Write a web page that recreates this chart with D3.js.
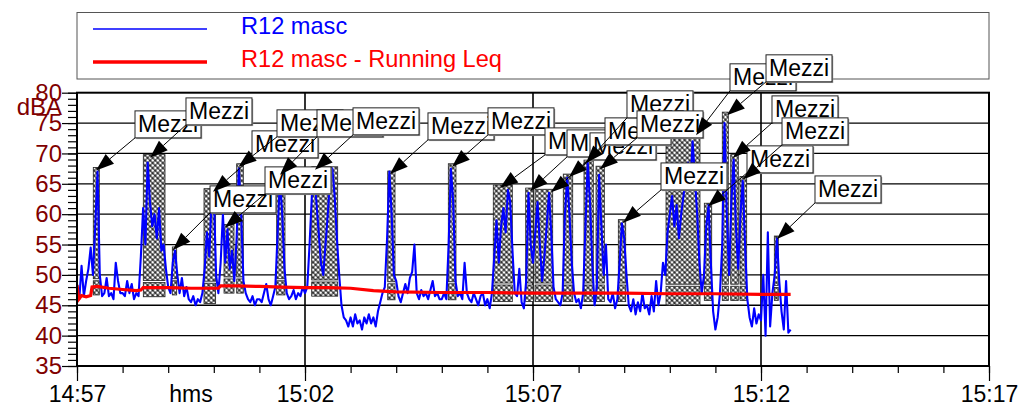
<!DOCTYPE html>
<html><head><meta charset="utf-8">
<script src="https://cdn.jsdelivr.net/npm/d3@7"></script>
<style>html,body{margin:0;padding:0;background:#fff;overflow:hidden}</style>
</head><body><svg id="c" width="1018" height="405"></svg>
<script>
// ---------- DATA ----------
const xTickLabels = ["14:57", "15:02", "15:07", "15:12", "15:17"];
const xTickMinutes = [0, 5, 10, 15, 20];
const xAxisTitle = "hms";
const yAxisTitle = "dBA";
const yTickValues = [35, 40, 45, 50, 55, 60, 65, 70, 75, 80];
const seriesNames = ["R12 masc", "R12 masc - Running Leq"];
const eventLabel = "Mezzi";

// R12 masc, one value every 3 s (0.05 min) from 14:57:00
const sampleStepMin = 0.05;
const lv00 = [48.5, 46, 51.5, 46.5, 49, 51, 54.5, 50, 58, 67, 50, 46.5, 47, 49.5, 46.5, 47, 46, 52, 49, 47];
const lv01 = [47, 46.5, 49, 47, 48.5, 46, 47, 46.5, 53, 61, 55, 68.5, 62, 58, 60, 56, 61, 54, 55, 51];
const lv02 = [48, 47, 52, 54, 50, 47, 49.5, 46.5, 48, 46, 45.5, 46.5, 45, 46, 45.5, 47, 51, 57, 53, 62];
const lv03 = [63.5, 50, 47, 52, 60, 52, 57.5, 51, 54, 49, 56, 67.5, 60, 49, 47, 46, 45.5, 46.5, 45, 46];
const lv04 = [46, 45.5, 47, 48.5, 46, 45, 46.5, 48, 57, 66, 60, 51, 47, 46, 46.5, 47.5, 46, 47, 46.5, 48];
const lv05 = [47, 48, 55, 63, 67, 62, 57, 52, 50, 55, 60, 66, 67.5, 63, 56, 50, 45, 43, 42.5, 41.5];
const lv06 = [43, 41.5, 43.5, 42, 42.5, 41, 43, 42, 43.5, 42, 43, 41.5, 44, 45.5, 47, 48, 56, 67, 60, 50];
const lv07 = [49, 46.5, 45.5, 47, 48.5, 47, 49.5, 50.5, 55, 47, 46, 47.5, 46.5, 47, 46, 47.5, 49, 46.5, 47, 46];
const lv08 = [46, 47, 46, 55, 67.5, 62, 49, 46.5, 47, 46, 52, 47, 46, 45.5, 47, 46, 45, 46.5, 47, 45];
const lv09 = [46, 44.5, 47, 53, 59, 52, 58, 61, 57, 64, 62, 54, 47, 46.5, 51, 45.5, 44.5, 49, 63.5, 55];
const lv10 = [52, 57, 62, 55, 49, 53, 58, 63.5, 57, 48, 46, 45.5, 45, 47, 60, 66, 60, 52, 47, 45.5];
const lv11 = [46, 44.5, 47, 58, 68.5, 62, 52, 45, 48, 66.5, 58, 50, 55, 46, 45.5, 47, 44.5, 46, 52, 58.5];
const lv12 = [56, 50, 45, 44, 46, 43.5, 45.5, 44, 47, 44.5, 45, 43.5, 46.5, 44, 49, 45, 47, 52, 50, 57];
const lv13 = [60, 63, 58, 61.5, 56, 60, 63, 66, 68.5, 64, 72, 66, 60, 52, 47, 50, 58, 61.5, 52, 44];
const lv14 = [41, 43, 47, 55, 75, 60, 50, 62, 69, 58, 51, 60, 65.5, 55, 46, 43, 41.5, 44.5, 42, 43.5];
const lv15 = [42.5, 50, 40, 57, 41.5, 47, 50, 56, 49, 44, 41, 49, 40.5, 41];

// Running Leq (minutes after 14:57, dBA)
const leqMin = [0, 0.04, 0.1, 0.2, 0.3, 0.33, 0.45, 0.7, 1.0, 1.3, 1.4, 1.45, 2.0, 2.5, 3.1, 3.15, 3.2, 3.5, 4.0, 4.5, 5.0, 5.5, 6.0, 6.5, 7.0, 8.0, 9.0, 10.0, 11.0, 12.0, 13.0, 14.0, 15.0, 15.65];
const leqVal = [48.3, 46.0, 46.6, 46.4, 46.6, 48.0, 48.1, 47.8, 47.6, 47.4, 47.5, 47.9, 47.9, 47.8, 47.8, 48.2, 48.2, 48.2, 48.1, 48.0, 47.9, 47.9, 47.8, 47.4, 47.2, 47.1, 47.1, 47.0, 47.0, 47.0, 46.9, 46.9, 46.8, 46.8];

// "Mezzi" events (minutes after 14:57, dBA)
const evStart = [0.357, 1.454, 2.09, 2.785, 3.224, 3.502, 4.379, 5.147, 6.814, 8.143, 9.129, 9.84, 10.044, 10.664, 11.118, 11.382, 11.871, 12.917, 13.757, 14.151, 14.336, 14.539, 15.292];
const evEnd = [0.489, 1.930, 2.186, 3.04, 3.443, 3.647, 4.561, 5.717, 6.974, 8.311, 9.546, 10.007, 10.432, 10.871, 11.322, 11.564, 12.033, 13.662, 13.919, 14.283, 14.502, 14.686, 15.379];
const evTop = [67.7, 69.8, 54.6, 64.2, 58.3, 68.3, 67.0, 67.8, 67.1, 68.3, 64.8, 64.3, 64.1, 66.6, 68.9, 67.9, 59.1, 73.5, 61.8, 76.8, 69.8, 66.2, 56.4];
const evLeq = [49.2, 48.9, 49.2, 48.8, 49.5, 49.5, 49.2, 49.0, 48.7, 48.7, 48.5, 48.5, 48.5, 48.5, 48.5, 48.5, 48.5, 48.3, 48.3, 48.3, 48.3, 48.3, 48.1];
const evMin = [46.7, 46.4, 46.7, 45.3, 47.0, 47.0, 46.7, 46.5, 45.9, 45.9, 45.6, 45.6, 45.6, 45.6, 45.6, 45.6, 45.6, 45.0, 45.8, 45.8, 45.8, 45.8, 45.8];
const evPeakMin = [0.417, 1.601, 2.105, 2.982, 3.246, 3.542, 4.452, 5.219, 6.864, 8.224, 9.276, 9.934, 10.395, 10.79, 11.162, 11.469, 11.974, 13.575, 13.838, 14.254, 14.386, 14.605, 15.351];
// annotation label anchor (lower-left corner), minutes / dBA
const labelMin = [1.272, 2.390, 2.917, 3.838, 4.123, 4.386, 5.263, 6.053, 7.697, 9.013, 10.263, 10.746, 11.25, 11.579, 12.061, 12.281, 12.807, 14.320, 14.693, 15.110, 15.241, 15.461, 16.184];
const labelDb = [72.56, 74.70, 60.21, 69.27, 63.34, 72.73, 72.73, 73.06, 72.23, 73.06, 69.76, 69.43, 68.94, 71.41, 75.86, 72.56, 63.99, 80.31, 66.80, 81.79, 75.03, 71.41, 61.85];

// ---------- CHART ----------
const levels = [].concat(lv00, lv01, lv02, lv03, lv04, lv05, lv06, lv07, lv08, lv09, lv10, lv11, lv12, lv13, lv14, lv15);
const FONT = "'Liberation Sans', Arial, Helvetica, sans-serif";
const L = 77, R = 989, T = 92.7, B = 366;
const svg = d3.select("#c").style("font-family", FONT);
const x = d3.scaleLinear().domain([0, 20]).range([L, R]);
const y = d3.scaleLinear().domain([35, 80]).range([B, T]);

const defs = svg.append("defs");
defs.append("clipPath").attr("id", "plotclip").append("rect")
  .attr("x", L).attr("y", T).attr("width", R - L).attr("height", B - T);
const pat = defs.append("pattern").attr("id", "hatch").attr("patternUnits", "userSpaceOnUse")
  .attr("width", 3.6).attr("height", 3.6).attr("patternTransform", "rotate(45)");
pat.append("rect").attr("width", 3.6).attr("height", 3.6).attr("fill", "#2a2a2a");
pat.append("circle").attr("cx", 1.8).attr("cy", 1.8).attr("r", 1.45).attr("fill", "#fff");

// legend
svg.append("rect").attr("x", L).attr("y", 12.5).attr("width", R - L).attr("height", 66.5)
  .attr("fill", "#fff").attr("stroke", "#555").attr("stroke-width", 1);
const legendColors = ["#0000ff", "#ff0000"];
const legendWidths = [1.5, 3.5];
const legendY = [29, 62];
seriesNames.forEach((n, i) => {
  svg.append("line").attr("x1", 93).attr("x2", 207).attr("y1", legendY[i]).attr("y2", legendY[i])
    .attr("stroke", legendColors[i]).attr("stroke-width", legendWidths[i]);
  svg.append("text").attr("x", 241).attr("y", legendY[i] + 5).attr("font-size", 23.6)
    .attr("fill", legendColors[i]).text(n);
});

// grid
const grid = svg.append("g");
grid.selectAll("line.h").data(d3.range(40, 80, 5)).join("line")
  .attr("x1", L).attr("x2", R).attr("y1", d => y(d)).attr("y2", d => y(d))
  .attr("stroke", "#000").attr("stroke-width", 1.3);
grid.selectAll("line.v").data([5, 10, 15]).join("line")
  .attr("y1", T).attr("y2", B).attr("x1", d => x(d)).attr("x2", d => x(d))
  .attr("stroke", "#000").attr("stroke-width", 1.6);

// event boxes
const evIdx = d3.range(evStart.length);
const boxes = svg.append("g").attr("clip-path", "url(#plotclip)");
boxes.selectAll("rect.up").data(evIdx).join("rect")
  .attr("x", i => x(evStart[i])).attr("width", i => x(evEnd[i]) - x(evStart[i]))
  .attr("y", i => y(evTop[i])).attr("height", i => y(evLeq[i]) - y(evTop[i]) - 1)
  .attr("fill", "url(#hatch)").attr("stroke", "#222").attr("stroke-width", 0.8);
boxes.selectAll("rect.lo").data(evIdx).join("rect")
  .attr("x", i => x(evStart[i])).attr("width", i => x(evEnd[i]) - x(evStart[i]))
  .attr("y", i => y(evLeq[i]) + 1).attr("height", i => y(evMin[i]) - y(evLeq[i]) - 1)
  .attr("fill", "url(#hatch)").attr("stroke", "#222").attr("stroke-width", 0.8);

// series
const plot = svg.append("g").attr("clip-path", "url(#plotclip)");
plot.append("path").datum(levels)
  .attr("d", d3.line().x((d, i) => x(i * sampleStepMin)).y(d => y(d)))
  .attr("fill", "none").attr("stroke", "#0000ff").attr("stroke-width", 2.1).attr("stroke-linejoin", "round");
plot.append("path").datum(leqMin)
  .attr("d", d3.line().x(d => x(d)).y((d, i) => y(leqVal[i])))
  .attr("fill", "none").attr("stroke", "#ff0000").attr("stroke-width", 3.2);

// frame
svg.append("rect").attr("x", L).attr("y", T).attr("width", R - L).attr("height", B - T)
  .attr("fill", "none").attr("stroke", "#000").attr("stroke-width", 2);

// axes
function styleAxis(g) {
  g.select(".domain").remove();
  g.selectAll(".tick line").attr("stroke", "#000").attr("stroke-width", 1.2);
}
svg.append("g").attr("transform", `translate(0,${B})`)
  .call(d3.axisBottom(x).tickValues(d3.range(0, 21)).tickSize(7).tickFormat(""))
  .call(styleAxis);
svg.append("g").attr("transform", `translate(0,${B})`)
  .call(d3.axisBottom(x).tickValues(xTickMinutes).tickSize(15).tickPadding(5)
    .tickFormat((d, i) => xTickLabels[i]))
  .call(styleAxis)
  .call(g => g.selectAll("text").attr("font-size", 23).attr("fill", "#000").attr("font-family", FONT));
svg.append("g").attr("transform", `translate(${L},0)`)
  .call(d3.axisLeft(y).tickValues(d3.range(35, 81)).tickSize(9).tickFormat(""))
  .call(styleAxis);
svg.append("g").attr("transform", `translate(${L},0)`)
  .call(d3.axisLeft(y).tickValues(yTickValues).tickSize(15).tickPadding(0))
  .call(styleAxis)
  .call(g => g.selectAll("text").attr("font-size", 24).attr("fill", "#800000").attr("font-family", FONT));
svg.append("text").attr("x", x(2.5)).attr("y", 402).attr("text-anchor", "middle")
  .attr("font-size", 23).attr("fill", "#000").text(xAxisTitle);
svg.append("text").attr("x", 62).attr("y", 115).attr("text-anchor", "end")
  .attr("font-size", 24).attr("fill", "#800000").text(yAxisTitle);

// annotations
const LW = 66, LH = 27;
const ann = svg.append("g");
evIdx.forEach(i => {
  const bx = x(labelMin[i]), by = y(labelDb[i]);
  ann.append("rect").attr("x", bx + 1.2).attr("y", by - LH + 1.2).attr("width", LW).attr("height", LH)
    .attr("fill", "#9a9a9a");
  ann.append("rect").attr("x", bx).attr("y", by - LH).attr("width", LW).attr("height", LH)
    .attr("fill", "#fff").attr("stroke", "#222").attr("stroke-width", 1);
  ann.append("text").attr("x", bx + 3).attr("y", by - 5.5).attr("font-size", 23)
    .attr("fill", "#000").text(eventLabel);
});
const arr = svg.append("g");
evIdx.forEach(i => {
  const bx = x(labelMin[i]), by = y(labelDb[i]);
  const tx = x(evPeakMin[i]), ty = y(evTop[i]) + 3;
  const dx = tx - bx, dy = ty - by, len = Math.hypot(dx, dy);
  const ux = dx / len, uy = dy / len, nx = -uy, ny = ux;
  const AL = 18, AW = 6.5;
  const baseX = tx - ux * AL, baseY = ty - uy * AL;
  arr.append("line").attr("x1", bx).attr("y1", by).attr("x2", baseX).attr("y2", baseY)
    .attr("stroke", "#000").attr("stroke-width", 1);
  arr.append("polygon")
    .attr("points", [[tx, ty], [baseX + nx * AW, baseY + ny * AW], [baseX - nx * AW, baseY - ny * AW]].map(p => p.join(",")).join(" "))
    .attr("fill", "#000");
});
</script></body></html>
